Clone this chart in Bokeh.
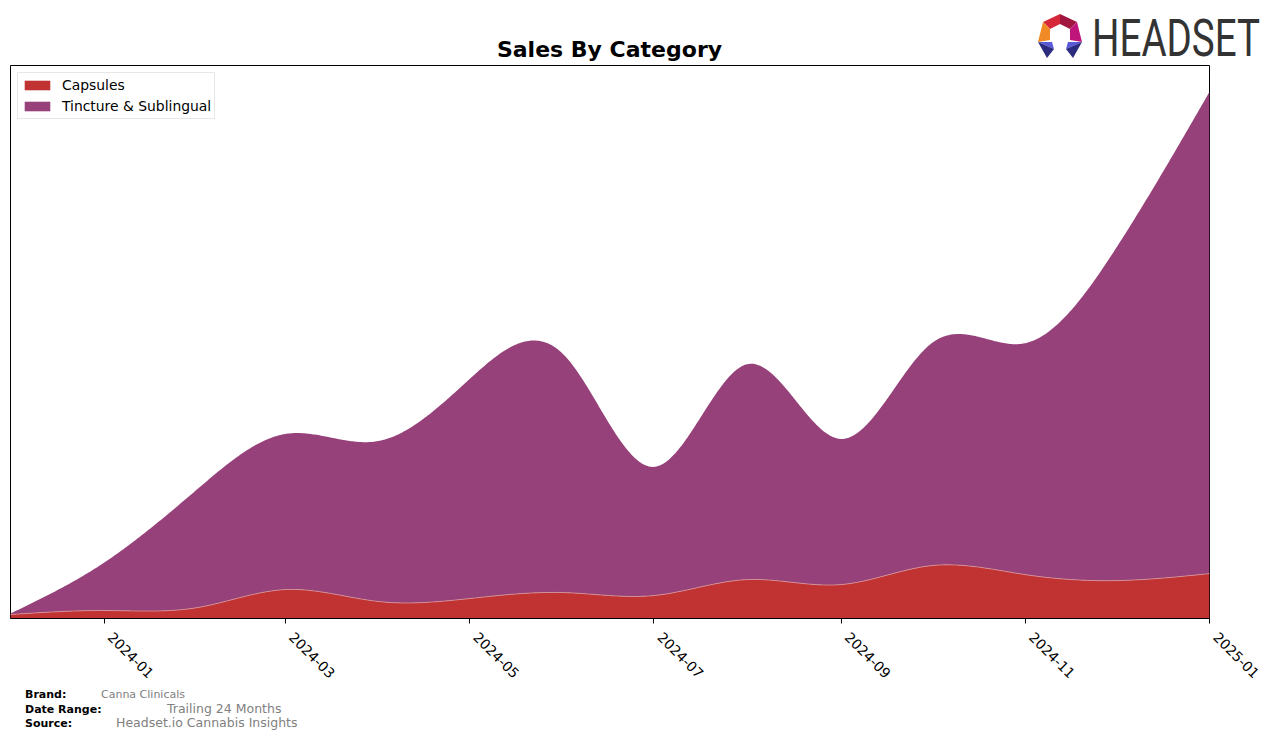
import numpy as np
import pandas as pd
from bokeh.plotting import figure
from bokeh.layouts import column
from bokeh.models import (Range1d, FixedTicker, DatetimeTickFormatter, Div,
                          Legend, LegendItem)
from bokeh.embed import file_html
from bokeh.resources import INLINE

# ---------------- data ----------------
months = ["2023-12-01", "2024-01-01", "2024-02-01", "2024-03-01", "2024-04-01",
          "2024-05-01", "2024-06-01", "2024-07-01", "2024-08-01", "2024-09-01",
          "2024-10-01", "2024-11-01", "2024-12-01", "2025-01-01"]
capsules = [4, 8, 11, 29, 17, 20, 26, 23, 39, 34, 53, 44, 38, 45]
tincture = [1, 48, 119, 156, 161, 220, 239, 129, 216, 146, 223, 232, 333, 483]
tick_labels = ["2024-01", "2024-03", "2024-05", "2024-07", "2024-09", "2024-11", "2025-01"]
series_names = ["Capsules", "Tincture & Sublingual"]
series_colors = ["#C13233", "#964179"]
title_text = "Sales By Category"
footer_rows = [("Brand:", "Canna Clinicals"),
               ("Date Range:", "Trailing 24 Months"),
               ("Source:", "Headset.io Cannabis Insights")]

W, H = 1276, 740
TOP_H = 64            # header strip height
FRAME_BOTTOM = 618    # frame bottom in page pixels
AXIS_PANEL = 74       # room below the frame for ticks and rotated labels
FIG_H = FRAME_BOTTOM + AXIS_PANEL - TOP_H
FOOT_TOP = TOP_H + FIG_H
FOOT_H = H - FOOT_TOP
FL, FR = 10, 1209     # frame left/right in page pixels


def natural_spline(xk, yk, xs):
    xk = np.asarray(xk, float)
    yk = np.asarray(yk, float)
    n = len(xk)
    h = np.diff(xk)
    A = np.zeros((n, n))
    b = np.zeros(n)
    A[0, 0] = 1.0
    A[-1, -1] = 1.0
    for i in range(1, n - 1):
        A[i, i - 1] = h[i - 1]
        A[i, i] = 2 * (h[i - 1] + h[i])
        A[i, i + 1] = h[i]
        b[i] = 6 * ((yk[i + 1] - yk[i]) / h[i] - (yk[i] - yk[i - 1]) / h[i - 1])
    M = np.linalg.solve(A, b)
    idx = np.clip(np.searchsorted(xk, xs) - 1, 0, n - 2)
    x0, x1 = xk[idx], xk[idx + 1]
    hh = x1 - x0
    return (M[idx] * (x1 - xs) ** 3 / (6 * hh) + M[idx + 1] * (xs - x0) ** 3 / (6 * hh)
            + (yk[idx] / hh - M[idx] * hh / 6) * (x1 - xs)
            + (yk[idx + 1] / hh - M[idx + 1] * hh / 6) * (xs - x0))


dates = pd.to_datetime(months)
t0 = dates[0]
xd = np.array([(d - t0).days for d in dates], float)
xs = np.linspace(xd[0], xd[-1], 800)
xs_dt = t0 + pd.to_timedelta(xs, unit="D")

cap_s = np.clip(natural_spline(xd, capsules, xs), 0, None)
tin_s = np.clip(natural_spline(xd, tincture, xs), 0, None)
top_s = cap_s + tin_s

ymax = max(np.array(capsules) + np.array(tincture)) * 1.05

p = figure(width=W, height=FIG_H, x_axis_type="datetime", output_backend="svg",
           toolbar_location=None, title=None,
           x_range=Range1d(dates[0], dates[-1]), y_range=Range1d(0, ymax),
           min_border_left=FL, min_border_right=W - FR,
           min_border_top=1, min_border_bottom=AXIS_PANEL)
p.margin = 0
p.background_fill_color = "white"
p.border_fill_color = "white"
p.outline_line_color = "black"
p.outline_line_width = 1
p.grid.visible = False
p.yaxis.visible = False

r1 = p.varea(x=xs_dt, y1=0, y2=cap_s, fill_color=series_colors[0])
r2 = p.varea(x=xs_dt, y1=cap_s, y2=top_s, fill_color=series_colors[1])
p.line(x=xs_dt, y=cap_s, line_color="#dd9a9a", line_width=0.8)

tick_ms = [pd.Timestamp(t + "-01").value // 10**6 for t in tick_labels]
p.xaxis.ticker = FixedTicker(ticks=tick_ms, minor_ticks=[])
fmt = "\u00a0\u00a0%Y-%m"
p.xaxis.formatter = DatetimeTickFormatter(days=fmt, months=fmt, years=fmt)
p.xaxis.major_label_orientation = -np.pi / 4
p.xaxis.major_label_text_font = "DejaVu Sans"
p.xaxis.major_label_text_font_size = "13.9px"
p.xaxis.major_label_text_color = "black"
p.xaxis.major_tick_out = 5
p.xaxis.major_tick_in = 0
p.xaxis.minor_tick_line_color = None
p.xaxis.axis_line_color = "black"

legend = Legend(items=[LegendItem(label=series_names[0], renderers=[r1]),
                       LegendItem(label=series_names[1], renderers=[r2])],
                location="top_left")
legend.label_text_font = "DejaVu Sans"
legend.label_text_font_size = "13.9px"
legend.label_text_color = "black"
legend.label_standoff = 9
legend.label_height = 18
legend.glyph_width = 32
legend.glyph_height = 12
legend.margin = 7
legend.padding = 3
legend.spacing = 3
legend.border_line_color = "#d0d0d0"
legend.border_line_width = 1
legend.background_fill_alpha = 1
p.add_layout(legend)

# ---------------- header (title + logo) ----------------
logo_parts = [
    ("1043,22 1060,14 1060,24 1050,29", "#d6283a"),
    ("1060,14 1077,22 1070,29 1060,24", "#a0183f"),
    ("1043,22 1050,29 1050,40 1038,42", "#f08a24"),
    ("1077,22 1082,42 1070,40 1070,29", "#c0157a"),
    ("1038,42 1052,42 1054,49", "#5a5ad8"),
    ("1038,42 1054,49 1047,58", "#2b2b80"),
    ("1082,42 1068,42 1066,49", "#5a5ad8"),
    ("1082,42 1066,49 1073,58", "#2b2b80"),
]
polys = "".join(f'<polygon points="{pts}" fill="{c}"/>' for pts, c in logo_parts)
LOGO_SY = 1.3
header_svg = (
    f'<svg xmlns="http://www.w3.org/2000/svg" width="{W}" height="{TOP_H}" '
    f'style="display:block;position:absolute;left:0;top:0;overflow:visible">'
    f'<text x="{(FL + FR) / 2}" y="57" text-anchor="middle" '
    f'style="font-family:\'DejaVu Sans\';font-weight:bold;font-size:22px;fill:#000">{title_text}</text>'
    f'{polys}'
    f'<g transform="scale(1,{LOGO_SY})"><text x="1092" y="{56 / LOGO_SY:.2f}" '
    f'textLength="168" lengthAdjust="spacingAndGlyphs" '
    f'style="font-family:Roboto;font-weight:normal;font-size:40px;fill:#333333">HEADSET</text></g>'
    f'</svg>'
)
header = Div(text=f'<div style="position:relative;width:{W}px;height:{TOP_H}px">{header_svg}</div>',
             width=W, height=TOP_H, margin=0)

# ---------------- footer ----------------
row_baselines = [698, 712.5, 727]   # page y of each footer row's baseline
value_x = [101, 167, 116]
value_size = [11, 12.5, 12.5]
SVG_TOP = FOOT_TOP - 12              # footer svg starts a little above the footer box
foot_parts = []
for (lab, val), by, vx, vs in zip(footer_rows, row_baselines, value_x, value_size):
    ly = by - SVG_TOP
    foot_parts.append(f'<text x="25" y="{ly}" style="font-family:\'DejaVu Sans\';'
                      f'font-weight:bold;font-size:11px;fill:#000">{lab}</text>')
    foot_parts.append(f'<text x="{vx}" y="{ly}" style="font-family:\'DejaVu Sans\';'
                      f'font-size:{vs}px;fill:#808080">{val}</text>')
footer_svg = (f'<svg xmlns="http://www.w3.org/2000/svg" width="{W}" height="{H - SVG_TOP}" '
              f'style="display:block;position:absolute;left:0;top:{SVG_TOP - FOOT_TOP}px;'
              f'overflow:visible">{"".join(foot_parts)}</svg>')
footer = Div(text=f'<div style="position:relative;width:{W}px;height:{FOOT_H}px;overflow:visible">'
                  f'{footer_svg}</div>',
             width=W, height=FOOT_H, margin=0, styles={"overflow": "visible"})

layout = column(header, p, footer, spacing=0, margin=0)
open("out.html", "w").write(file_html(layout, INLINE))
